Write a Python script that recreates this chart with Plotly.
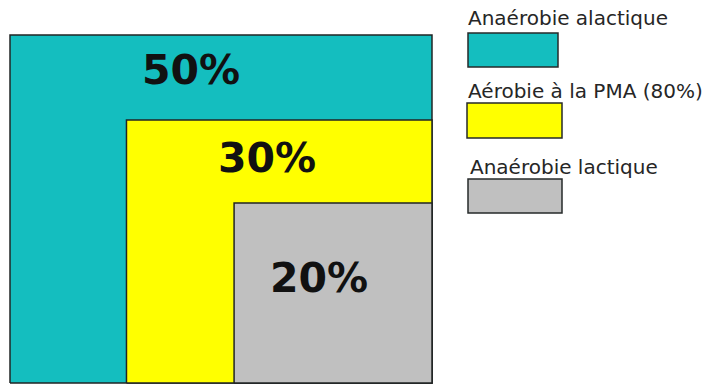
import plotly.graph_objects as go

# Energy systems and their share of the effort
systems = ["Anaérobie alactique", "Aérobie à la PMA (80%)", "Anaérobie lactique"]
shares = [50, 30, 20]
share_labels = [f"{s}%" for s in shares]
colors = ["#14BEBF", "#FFFF00", "#C0C0C0"]

# Each block spans from its left edge to the right of the frame and from the
# bottom of the frame up to its top edge (frame units 0-100)
block_left = [0, 27.6, 53.1]
block_top = [100, 75.6, 51.7]

W, H = 714, 387
# plot frame in pixels
fx0, fx1, fy0, fy1 = 10, 432, 35, 383
pad = 1.0  # axis padding in frame units so edge lines are not clipped
ux = (fx1 - fx0) / 100
uy = (fy1 - fy0) / 100

fig = go.Figure()

for name, left, top, col in zip(systems, block_left, block_top, colors):
    fig.add_trace(go.Scatter(
        x=[left, 100, 100, left, left],
        y=[0, 0, top, top, 0],
        mode="lines",
        fill="toself",
        fillcolor=col,
        line=dict(color="#202424", width=1.5),
        name=name,
        hoverinfo="skip",
        showlegend=False,
    ))

# percentage labels placed in the visible part of each block
label_x = [43.0, 61.0, 73.2]
label_y = [89.9, 64.8, 30.3]
for txt, lx, ly in zip(share_labels, label_x, label_y):
    fig.add_annotation(
        x=lx, y=ly, xref="x", yref="y", text=txt, showarrow=False,
        xanchor="center", yanchor="middle",
        font=dict(family="DejaVu Sans", size=41, color="#111111", weight="bold"),
    )

# legend: caption above a colour swatch for each system
legend_text_y = [18, 90.5, 167.5]
legend_text_x = [466, 466, 468]
swatch = [(468, 33, 558, 67), (467, 103, 562, 138), (468, 179, 562, 213)]
for name, col, tx, ty, (sx0, sy0, sx1, sy1) in zip(systems, colors, legend_text_x, legend_text_y, swatch):
    fig.add_annotation(
        x=tx / W, y=1 - ty / H, xref="paper", yref="paper", text=name,
        showarrow=False, xanchor="left", yanchor="middle",
        font=dict(family="DejaVu Sans", size=20, color="#262626"),
    )
    fig.add_shape(
        type="rect", xref="paper", yref="paper",
        x0=sx0 / W, x1=sx1 / W, y0=1 - sy1 / H, y1=1 - sy0 / H,
        fillcolor=col, line=dict(color="#262a2a", width=1.5),
    )

fig.update_xaxes(
    range=[-pad, 100 + pad], visible=False, fixedrange=True,
    domain=[(fx0 - pad * ux) / W, (fx1 + pad * ux) / W],
)
fig.update_yaxes(
    range=[-pad, 100 + pad], visible=False, fixedrange=True,
    domain=[1 - (fy1 + pad * uy) / H, 1 - (fy0 - pad * uy) / H],
)
fig.update_layout(
    width=W, height=H,
    margin=dict(l=0, r=0, t=0, b=0),
    paper_bgcolor="white", plot_bgcolor="white",
    showlegend=False,
)

fig.write_html("out.html", config={"displayModeBar": False})
